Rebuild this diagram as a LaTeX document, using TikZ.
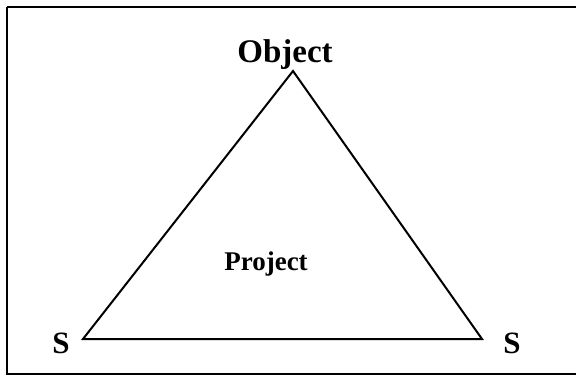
\documentclass[tikz,border=0pt]{standalone}
\usepackage{fontspec}
\setmainfont{Liberation Serif}
\begin{document}
\begin{tikzpicture}[x=1pt,y=-1pt,
  lbl/.style={font=\bfseries, inner sep=0pt, anchor=base},
  edge/.style={line width=2pt, line join=miter}]
\useasboundingbox (0,0) rectangle (576,376);
\draw[line width=2.5pt] (7,7) -- (580,7) (7,7) -- (7,374) -- (580,374);
\coordinate (top) at (293,71);
\coordinate (bl) at (83,339);
\coordinate (br) at (482,339);
\draw[edge] (top) -- (bl) -- (br) -- cycle;
\node[lbl, font=\fontsize{33}{36}\selectfont\bfseries] (obj) at (285,62) {Object};
\node[lbl, font=\fontsize{27}{30}\selectfont\bfseries] (proj) at (266,270) {Project};
\node[lbl, font=\fontsize{31}{34}\selectfont\bfseries] (s1) at (61,353) {S};
\node[lbl, font=\fontsize{31}{34}\selectfont\bfseries] (s2) at (512,353) {S};
\end{tikzpicture}
\end{document}
